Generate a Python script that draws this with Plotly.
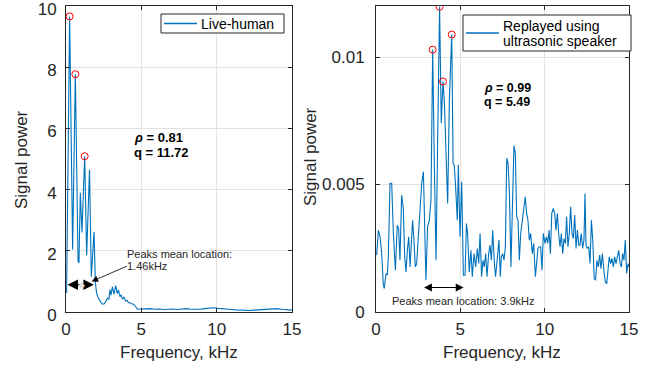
import plotly.graph_objects as go

# ---------------- data ----------------
left_freq = [0.04, 0.24, 0.44, 0.62, 0.80, 0.86, 0.95, 1.06, 1.24, 1.37, 1.56, 1.68, 1.86, 1.95,
             2.03, 2.15, 2.30, 2.42, 2.55, 2.65, 2.75, 2.85, 2.92, 2.98, 3.08, 3.18, 3.30, 3.40,
             3.48, 3.58, 3.66, 3.75, 3.85, 3.95, 4.05, 4.15, 4.25, 4.35, 4.45, 4.55, 4.64, 4.75,
             4.90, 5.0, 5.3, 5.6, 5.9, 6.2, 6.5, 6.8, 7.1, 7.4, 7.7, 8.0, 8.3, 8.6, 8.9, 9.2,
             9.5, 9.8, 10.1, 10.4, 10.7, 11.0, 11.3, 11.6, 11.9, 12.2, 12.5, 12.8, 13.1, 13.4,
             13.7, 14.0, 14.3, 14.6, 14.9, 15.0]
left_power = [0.62, 9.66, 2.04, 7.77, 1.66, 1.60, 3.90, 2.60, 5.09, 1.85, 4.66, 1.15, 2.62, 0.95,
              0.62, 0.45, 0.33, 0.26, 0.27, 0.38, 0.45, 0.42, 0.73, 0.55, 0.82, 0.58, 0.86, 0.60,
              0.72, 0.50, 0.56, 0.42, 0.48, 0.36, 0.38, 0.30, 0.30, 0.27, 0.26, 0.22, 0.15, 0.09,
              0.10, 0.10, 0.12, 0.11, 0.09, 0.10, 0.08, 0.09, 0.10, 0.08, 0.10, 0.11, 0.09, 0.08,
              0.09, 0.11, 0.12, 0.14, 0.12, 0.10, 0.09, 0.08, 0.07, 0.06, 0.05, 0.05, 0.06, 0.07,
              0.08, 0.09, 0.10, 0.11, 0.09, 0.08, 0.05, 0.06]
left_peaks = [1, 3, 8]

right_freq = [0.04, 0.14, 0.24, 0.34, 0.43, 0.49, 0.59, 0.67, 0.73, 0.83,
              0.93, 1.03, 1.15, 1.26, 1.34, 1.42, 1.52, 1.62, 1.70, 1.78,
              1.86, 1.94, 2.02, 2.09, 2.17, 2.25, 2.33, 2.41, 2.51, 2.61,
              2.71, 2.81, 2.89, 2.96, 3.06, 3.16, 3.26, 3.36, 3.46, 3.56,
              3.66, 3.77, 3.87, 3.97, 4.05, 4.15, 4.25, 4.35, 4.49, 4.57,
              4.64, 4.72, 4.82, 4.88, 4.98, 5.08, 5.18, 5.28, 5.36, 5.43,
              5.53, 5.63, 5.71, 5.81, 5.91, 6.01, 6.09, 6.17, 6.26, 6.34,
              6.42, 6.50, 6.58, 6.68, 6.76, 6.84, 6.92, 7.02, 7.09, 7.19,
              7.29, 7.37, 7.43, 7.51, 7.59, 7.67, 7.75, 7.83, 7.91, 8.00,
              8.08, 8.18, 8.26, 8.34, 8.42, 8.50, 8.58, 8.66, 8.75, 8.85,
              8.93, 9.01, 9.09, 9.17, 9.27, 9.35, 9.45, 9.53, 9.60, 9.68,
              9.76, 9.84, 9.92, 10.02, 10.10, 10.18, 10.26, 10.34, 10.42, 10.51,
              10.59, 10.67, 10.75, 10.83, 10.91, 10.99, 11.07, 11.15, 11.23, 11.30,
              11.38, 11.46, 11.54, 11.62, 11.70, 11.78, 11.86, 11.94, 12.02, 12.09,
              12.17, 12.25, 12.33, 12.39, 12.45, 12.53, 12.61, 12.69, 12.77, 12.85,
              12.94, 13.02, 13.10, 13.18, 13.26, 13.34, 13.42, 13.52, 13.60, 13.68,
              13.75, 13.83, 13.91, 13.99, 14.07, 14.15, 14.23, 14.31, 14.39, 14.47,
              14.55, 14.62, 14.70, 14.78, 14.86, 14.94, 15.00]
right_power_milli = [2.23, 3.2, 2.95, 2.3, 1.1, 0.92, 1.5, 1.45, 2.16, 5.05,
                     5.05, 3.08, 1.64, 3.4, 3.28, 2.03, 4.59, 4.06, 2.16, 1.57,
                     2.42, 2.95, 1.77, 2.56, 3.6, 2.82, 1.77, 1.9, 3.08, 4.19,
                     5.05, 5.5, 3.6, 1.25, 3.34, 3.6, 4.4, 10.29, 5.7, 2.03,
                     7.0, 11.97, 7.4, 9.04, 8.3, 5.7, 4.26, 8.32, 10.88, 5.83,
                     5.77, 4.91, 3.6, 5.77, 2.95, 5.11, 1.44, 1.44, 3.47, 3.08,
                     1.57, 2.42, 1.38, 2.29, 1.77, 2.49, 1.9, 3.08, 1.38, 2.03,
                     1.77, 2.29, 1.38, 2.29, 2.62, 2.03, 3.21, 1.9, 1.38, 2.1,
                     2.82, 1.38, 2.16, 2.29, 2.03, 2.56, 6.03, 5.83, 4.65, 1.77,
                     3.87, 6.53, 6.23, 3.74, 3.6, 2.03, 3.08, 3.47, 4.06, 4.52,
                     3.87, 3.6, 2.82, 3.08, 2.29, 2.69, 1.38, 2.03, 2.49, 2.56,
                     2.56, 1.64, 3.08, 2.69, 2.95, 2.69, 3.21, 2.29, 3.87, 4.06,
                     3.87, 3.21, 3.87, 3.08, 2.56, 3.08, 2.29, 2.88, 2.69, 3.74,
                     2.56, 3.08, 4.13, 3.08, 2.88, 3.8, 2.49, 3.21, 2.62, 2.62,
                     3.08, 2.49, 2.82, 4.65, 2.62, 2.49, 2.56, 1.9, 3.6, 2.82,
                     1.31, 1.25, 2.03, 1.77, 2.23, 1.7, 2.29, 1.57, 1.18, 1.11,
                     1.77, 2.16, 1.9, 2.1, 1.77, 2.16, 1.9, 2.16, 2.42, 1.9,
                     1.77, 2.29, 2.03, 2.82, 1.51, 1.9, 1.77]
right_power = [v / 1000 for v in right_power_milli]
right_peaks = [37, 41, 43, 48]

x_ticks = [0, 5, 10, 15]
left_y_ticks = [0, 2, 4, 6, 8, 10]
right_y_ticks = [0, 0.005, 0.01]
right_y_labels = ["0", "0.005", "0.01"]

left_name = ["Live-human"]
right_name = ["Replayed using", "ultrasonic speaker"]
left_stats = ("0.81", "11.72")
right_stats = ("0.99", "5.49")

# ---------------- style ----------------
BLUE = "#0072BD"
FONT = "Liberation Sans, Arial, sans-serif"
DARK = "#262626"
W, H = 652, 368

fig = go.Figure()

fig.add_trace(go.Scatter(x=left_freq, y=left_power, mode="lines", name=left_name[0],
                         line=dict(color=BLUE, width=1.1), xaxis="x", yaxis="y",
                         showlegend=False))
fig.add_trace(go.Scatter(x=[left_freq[i] for i in left_peaks],
                         y=[left_power[i] for i in left_peaks], mode="markers",
                         marker=dict(symbol="circle-open", color="red", size=7, line=dict(width=1)),
                         showlegend=False, xaxis="x", yaxis="y"))
fig.add_trace(go.Scatter(x=right_freq, y=right_power, mode="lines", name=" ".join(right_name),
                         line=dict(color=BLUE, width=1.1), xaxis="x2", yaxis="y2",
                         showlegend=False))
fig.add_trace(go.Scatter(x=[right_freq[i] for i in right_peaks],
                         y=[right_power[i] for i in right_peaks], mode="markers",
                         marker=dict(symbol="circle-open", color="red", size=7, line=dict(width=1)),
                         showlegend=False, xaxis="x2", yaxis="y2"))

def px_x(p):
    return p / W

def px_y(p):
    return 1 - p / H

axis_common = dict(showline=True, linecolor=DARK, linewidth=1, mirror="ticks",
                   ticks="inside", ticklen=4, tickcolor=DARK, showgrid=True,
                   gridcolor="#e3e3e3", gridwidth=1, zeroline=False, automargin=False,
                   ticklabeloverflow="allow",
                   tickfont=dict(family=FONT, size=17, color=DARK))

y_dom = [px_y(312), px_y(6)]
fig.update_layout(
    template="none",
    width=W, height=H, margin=dict(l=0, r=0, t=0, b=0, pad=0),
    paper_bgcolor="white", plot_bgcolor="white",
    xaxis=dict(domain=[px_x(66), px_x(292)], range=[0, 15], tickvals=x_ticks, anchor="y",
               ticklabelstandoff=2, **axis_common),
    yaxis=dict(domain=y_dom, range=[0, 10], tickvals=left_y_ticks, anchor="x",
               ticklabelstandoff=5, ticklabelshift=3, **axis_common),
    xaxis2=dict(domain=[px_x(376), px_x(629)], range=[0, 15], tickvals=x_ticks, anchor="y2",
                ticklabelstandoff=2, **axis_common),
    yaxis2=dict(domain=y_dom, range=[0, 0.012], tickvals=right_y_ticks, ticktext=right_y_labels,
                anchor="x2", ticklabelstandoff=7, **axis_common),
    showlegend=False,
)

ann = []
shapes = []
# axis titles
for xc in (px_x(179), px_x(502)):
    ann.append(dict(x=xc, y=px_y(352), xref="paper", yref="paper", text="Frequency, kHz",
                    yanchor="middle", xanchor="center",
                    showarrow=False, font=dict(family=FONT, size=17, color=DARK)))
ann.append(dict(x=px_x(22), y=px_y(160), xref="paper", yref="paper", text="Signal power",
                xanchor="center", yanchor="middle",
                textangle=-90, showarrow=False, font=dict(family=FONT, size=17, color=DARK)))
ann.append(dict(x=px_x(311), y=px_y(157), xref="paper", yref="paper", text="Signal power",
                xanchor="center", yanchor="middle",
                textangle=-90, showarrow=False, font=dict(family=FONT, size=17, color=DARK)))

# legends (drawn as box + sample line + text)
def legend_box(x0, y0, x1, y1, line_y, labels, label_ys):
    shapes.append(dict(type="rect", xref="paper", yref="paper",
                       x0=px_x(x0), x1=px_x(x1), y0=px_y(y1), y1=px_y(y0),
                       line=dict(color=DARK, width=1), fillcolor="white", layer="above"))
    shapes.append(dict(type="line", xref="paper", yref="paper",
                       x0=px_x(x0 + 3), x1=px_x(x0 + 36), y0=px_y(line_y), y1=px_y(line_y),
                       line=dict(color=BLUE, width=1.5), layer="above"))
    for lab, ly in zip(labels, label_ys):
        ann.append(dict(x=px_x(x0 + 38), y=px_y(ly), xref="paper", yref="paper",
                        xanchor="left", yanchor="middle", showarrow=False, text=lab,
                        font=dict(family=FONT, size=14, color="black")))

legend_box(161, 14, 284, 33, 23.5, left_name, [23.5])
legend_box(463, 15, 631, 51, 33, right_name, [25.5, 41])

# stats text (one annotation per line)
def stats(xref, yref, x, ys, vals, size):
    lines = [f"<b><i>ρ</i> = {vals[0]}</b>", f"<b>q = {vals[1]}</b>"]
    for t, yv in zip(lines, ys):
        ann.append(dict(x=x, y=yv, xref=xref, yref=yref, xanchor="left", yanchor="middle",
                        showarrow=False, text=t, font=dict(family=FONT, size=size, color="black")))

stats("x", "y", 4.4, [5.69, 5.22], left_stats, 13)
stats("x2", "y2", 6.3, [0.00878, 0.00822], right_stats, 12.5)

# left peaks mean location
ann.append(dict(x=3.92, y=1.88, xref="x", yref="y", xanchor="left", yanchor="middle",
                showarrow=False, text="Peaks mean location:",
                font=dict(family=FONT, size=11, color=DARK)))
ann.append(dict(x=3.92, y=1.49, xref="x", yref="y", xanchor="left", yanchor="middle",
                showarrow=False, text="1.46kHz",
                font=dict(family=FONT, size=11, color=DARK)))
ann.append(dict(x=1.70, y=1.0, ax=4.15, ay=1.52, xref="x", yref="y", axref="x", ayref="y",
                showarrow=True, arrowhead=2, arrowsize=1.6, arrowwidth=0.8, arrowcolor="black",
                text=""))
ann.append(dict(x=0.1, y=0.89, ax=1.95, ay=0.89, xref="x", yref="y", axref="x", ayref="y",
                showarrow=True, arrowhead=2, arrowside="end+start", arrowsize=1.5,
                arrowwidth=1.4, arrowcolor="black", text=""))
ann.append(dict(x=1.0, y=0.89, xref="x", yref="y", showarrow=False, text="◆",
                font=dict(size=9, color="#dddddd")))

# right peaks mean location
ann.append(dict(x=2.85, y=0.00096, ax=5.28, ay=0.00096, xref="x2", yref="y2", axref="x2",
                ayref="y2", showarrow=True, arrowhead=2, arrowside="end+start", arrowsize=1.3,
                arrowwidth=1.2, arrowcolor="black", text=""))
ann.append(dict(x=5.16, y=0.00045, xref="x2", yref="y2", showarrow=False,
                text="Peaks mean location: 3.9kHz",
                font=dict(family=FONT, size=11, color=DARK)))

fig.update_layout(annotations=ann, shapes=shapes)
fig.write_html("out.html")
